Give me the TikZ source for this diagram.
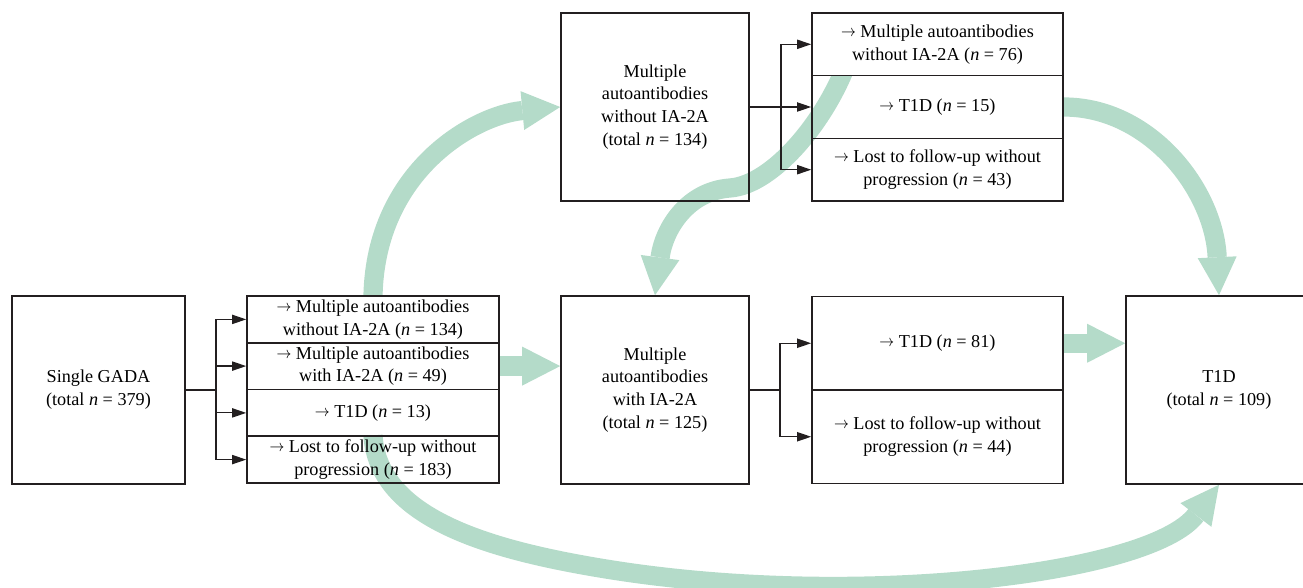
\documentclass[tikz,border=0pt]{standalone}
\usepackage{fontspec}
\setmainfont{Liberation Serif}
\usetikzlibrary{arrows.meta,backgrounds}
\definecolor{agreen}{RGB}{180,219,201}
\definecolor{lnc}{RGB}{35,31,32}
\newcommand\myarr{\raisebox{0.4pt}{\scalebox{0.8}[0.9]{$\rightarrow$}}}
\newcommand\nvar{\textit{n}}
\begin{document}
\begin{tikzpicture}[x=0.5pt,y=-0.5pt,
  font=\fontsize{9.1}{11.4}\selectfont,
  box/.style={draw=lnc, line width=0.8pt, align=center, inner sep=0pt},
  bigbox/.style={box, minimum width=94pt, minimum height=94pt},
  rowA/.style={box, minimum width=126pt, minimum height=23.375pt},
  rowB/.style={box, minimum width=125.5pt, minimum height=31.33pt},
  rowC/.style={box, minimum width=125.5pt, minimum height=46.75pt},
  conn/.style={draw=lnc, line width=0.6pt},
  carrow/.style={conn, -{Triangle[length=7pt,width=4.6pt]}},
  garrow/.style={draw=agreen, line width=9.6pt,
    -{Triangle[length=19pt,width=19.5pt,line width=0pt]}}]
\useasboundingbox (0,0) rectangle (1303,588);

% ---------- nodes ----------
\node[box, minimum width=86.5pt, minimum height=94pt] (gada) at (98.5,390)
  {Single GADA\\(total \nvar{} = 379)};
\node[rowA] (l1a) at (373,319.4) {\myarr{} Multiple autoantibodies\\without IA-2A (\nvar{} = 134)};
\node[rowA] (l1b) at (373,366.1) {\myarr{} Multiple autoantibodies\\with IA-2A (\nvar{} = 49)};
\node[rowA] (l1c) at (373,412.9) {\myarr{} T1D (\nvar{} = 13)};
\node[rowA] (l1d) at (373,459.6) {\myarr{} Lost to follow-up without\\progression (\nvar{} = 183)};

\node[bigbox] (topmid) at (655,107)
  {Multiple\\autoantibodies\\without IA-2A\\(total \nvar{} = 134)};
\node[rowB] (tl1) at (937.5,44.3) {\myarr{} Multiple autoantibodies\\without IA-2A (\nvar{} = 76)};
\node[rowB] (tl2) at (937.5,107) {\myarr{} T1D (\nvar{} = 15)};
\node[rowB] (tl3) at (937.5,169.7) {\myarr{} Lost to follow-up without\\progression (\nvar{} = 43)};

\node[bigbox] (botmid) at (655,390)
  {Multiple\\autoantibodies\\with IA-2A\\(total \nvar{} = 125)};
\node[rowC] (bl1) at (937.5,343.25) {\myarr{} T1D (\nvar{} = 81)};
\node[rowC] (bl2) at (937.5,436.75) {\myarr{} Lost to follow-up without\\progression (\nvar{} = 44)};

\node[box, minimum width=93pt, minimum height=94pt] (t1d) at (1219,390)
  {T1D\\(total \nvar{} = 109)};

% ---------- green flow arrows (behind) ----------
\begin{scope}[on background layer]
\draw[garrow] (l1a.north) .. controls (376,170) and (475,115) .. (topmid.west);
\draw[garrow] (l1b.east) -- (l1b.east -| botmid.west);
\begin{scope}
  \clip (0,76.5) rectangle (1303,588);
  \coordinate (s3) at ([shift={(-89,-16)}]tl2.north);
  \coordinate (m3) at (730,188);
  \draw[garrow] (s3) .. controls (826,122) and (772,185) .. (m3)
     .. controls (688,191) and (664,228) .. (botmid.north);
\end{scope}
\draw[garrow] (tl2.east) .. controls (1150,107) and (1214,190) .. (t1d.north);
\draw[garrow] (bl1.east) -- (bl1.east -| t1d.west);
\coordinate (m6) at (600,568);
\draw[garrow] (l1d.north) .. controls (378,515) and (480,548) .. (m6)
   .. controls (850,610) and (1150,575) .. (t1d.south);
\end{scope}

% ---------- black connectors ----------
\coordinate (j1) at (216,390);
\draw[conn] (gada.east) -- (j1);
\draw[conn] (j1 |- l1a) -- (j1 |- l1d);
\foreach \n in {l1a,l1b,l1c,l1d} \draw[carrow] (j1 |- \n) -- (\n.west);

\coordinate (j2) at (781,107);
\draw[conn] (topmid.east) -- (j2);
\draw[conn] (j2 |- tl1) -- (j2 |- tl3);
\foreach \n in {tl1,tl2,tl3} \draw[carrow] (j2 |- \n) -- (\n.west);

\coordinate (j3) at (780,390);
\draw[conn] (botmid.east) -- (j3);
\draw[conn] (j3 |- bl1) -- (j3 |- bl2);
\foreach \n in {bl1,bl2} \draw[carrow] (j3 |- \n) -- (\n.west);
\end{tikzpicture}
\end{document}
